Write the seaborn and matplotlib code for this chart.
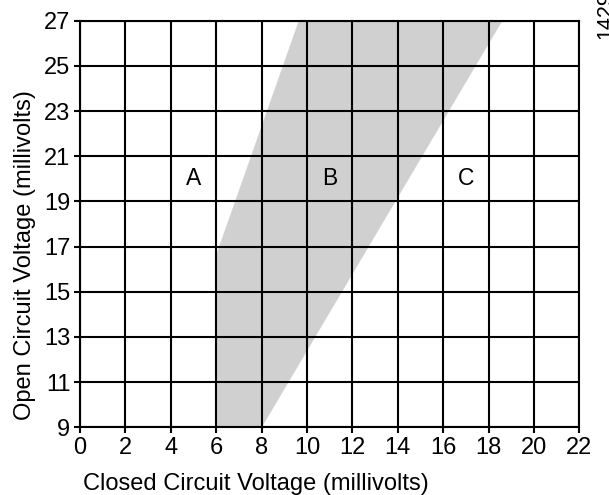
import matplotlib
matplotlib.use("Agg")
import matplotlib.pyplot as plt
import seaborn as sns
import pandas as pd

# Zone boundaries (closed-circuit mV vs open-circuit mV)
left_edge_x = [6.0, 6.0, 9.65]
left_edge_y = [9.0, 16.6, 27.0]
right_edge_x = [8.0, 18.6]
right_edge_y = [9.0, 27.0]

# Zone labels
zone_names = ["A", "B", "C"]
zone_x = [5, 11, 17]
zone_y = [20, 20, 20]

x_ticks = [0, 2, 4, 6, 8, 10, 12, 14, 16, 18, 20, 22]
y_ticks = [9, 11, 13, 15, 17, 19, 21, 23, 25, 27]

x_label = "Closed Circuit Voltage (millivolts)"
y_label = "Open Circuit Voltage (millivolts)"
figure_id = "1429"

sns.set_theme(style="white")
plt.rcParams["font.family"] = ["Liberation Sans", "DejaVu Sans"]

fig = plt.figure(figsize=(6.09, 4.95), dpi=100)
ax = fig.add_axes([80 / 609, 1 - 427.3 / 495, 499.3 / 609, 406.6 / 495])

# Shaded zone B: left edge up, right edge back down
poly = pd.DataFrame({
    "x": left_edge_x + right_edge_x[::-1],
    "y": left_edge_y + right_edge_y[::-1],
})
ax.fill(poly["x"], poly["y"], color="#d0d0d0", lw=0, zorder=1)
sns.lineplot(data=poly, x="x", y="y", sort=False, estimator=None,
             color="#d0d0d0", lw=0.3, ax=ax, zorder=1)

for name, zx, zy in zip(zone_names, zone_x, zone_y):
    ax.text(zx, zy, name, ha="center", va="center", fontsize=16.5,
            color="black", zorder=4)

ax.set_xlim(0, 22)
ax.set_ylim(9, 27)
ax.set_xticks(x_ticks)
ax.set_yticks(y_ticks)
ax.set_axisbelow(False)
ax.grid(True, color="black", lw=1.5)
for s in ax.spines.values():
    s.set_visible(True)
    s.set_color("black")
    s.set_linewidth(1.5)
ax.tick_params(axis="both", which="major", direction="out", length=4,
               width=1.5, color="black", labelsize=17, labelcolor="black",
               pad=3, bottom=True, left=True)

ax.set_xlabel(x_label, fontsize=17, color="black")
ax.set_ylabel(y_label, fontsize=17, color="black")
ax.xaxis.set_label_coords(0.3525, -0.112)
ax.yaxis.set_label_coords(-0.088, 0.4238)

fig.text(595 / 609, 1 - 39 / 495, figure_id, rotation=90, ha="left",
         va="bottom", fontsize=15.5, color="black")

fig.savefig("out.png", dpi=100)
